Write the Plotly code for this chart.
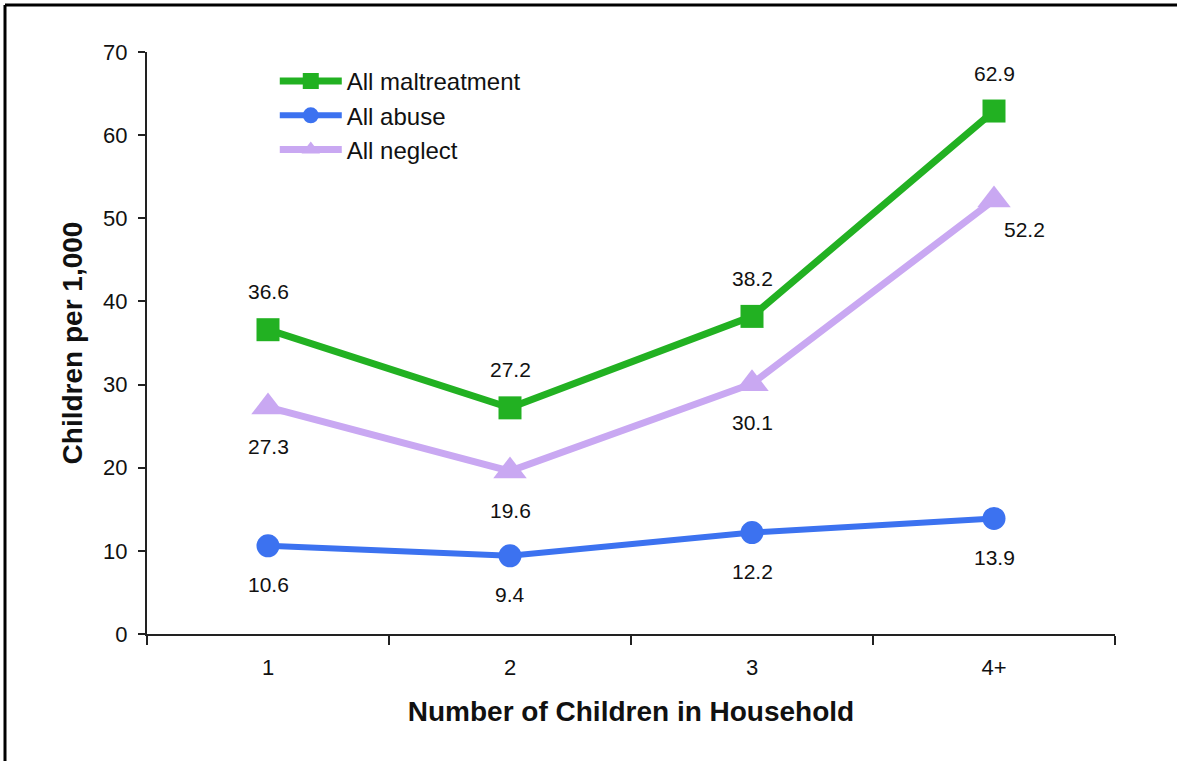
import plotly.graph_objects as go

categories = ["1", "2", "3", "4+"]
maltreatment = [36.6, 27.2, 38.2, 62.9]
abuse = [10.6, 9.4, 12.2, 13.9]
neglect = [27.3, 19.6, 30.1, 52.2]
y_ticks = [0, 10, 20, 30, 40, 50, 60, 70]

GREEN = "#22B122"
BLUE = "#3C72F0"
PURPLE = "#C9A8F2"
FONT = "Liberation Sans, Arial, sans-serif"

fig = go.Figure()
fig.add_trace(go.Scatter(x=categories, y=maltreatment, name="All maltreatment",
                         mode="lines+markers", legendgroup="a",
                         line=dict(color=GREEN, width=7),
                         marker=dict(symbol="square", size=23, color=GREEN)))
fig.add_trace(go.Scatter(x=categories, y=abuse, name="All abuse",
                         mode="lines+markers", legendgroup="b",
                         line=dict(color=BLUE, width=6),
                         marker=dict(symbol="circle", size=23, color=BLUE)))
fig.add_trace(go.Scatter(x=categories, y=neglect, name="All neglect",
                         mode="lines+markers", legendgroup="c",
                         line=dict(color=PURPLE, width=7),
                         marker=dict(symbol="triangle-up", size=29, color=PURPLE)))

annotations = []
for i, v in enumerate(maltreatment):
    annotations.append(dict(x=i, y=v, text=f"{v}", showarrow=False, yshift=38))
for i, v in enumerate(abuse):
    annotations.append(dict(x=i, y=v, text=f"{v}", showarrow=False, yshift=-39))
for i, v in enumerate(neglect):
    if i == len(neglect) - 1:
        annotations.append(dict(x=i, y=v, text=f"{v}", showarrow=False, xshift=30, yshift=-30))
    else:
        annotations.append(dict(x=i, y=v, text=f"{v}", showarrow=False, yshift=-39))
for a in annotations:
    a["font"] = dict(family=FONT, size=21, color="#111111")
    a["xref"] = "x"
    a["yref"] = "y"

# figure border (top and left visible)
bx = -142 / 968
by = (634 - 5) / 582
shapes = [
    dict(type="line", xref="paper", yref="paper", x0=bx, x1=bx, y0=-0.3, y1=by,
         line=dict(color="black", width=3)),
    dict(type="line", xref="paper", yref="paper", x0=bx, x1=1.2, y0=by, y1=by,
         line=dict(color="black", width=3)),
]

fig.update_layout(
    width=1177, height=761,
    margin=dict(l=147, r=62, t=52, b=127),
    paper_bgcolor="white", plot_bgcolor="white",
    font=dict(family=FONT, size=21, color="#111111"),
    showlegend=True,
    legend=dict(x=0.132, y=0.988, xanchor="left", yanchor="top",
                bgcolor="rgba(0,0,0,0)", font=dict(size=24),
                tracegroupgap=0, itemwidth=62),
    annotations=annotations,
    shapes=shapes,
    xaxis=dict(type="category", range=[-0.5, 3.5], showline=True, linecolor="#222222",
               linewidth=2, ticks="outside", tickson="boundaries", ticklen=9,
               tickcolor="#222222", tickwidth=2, showgrid=False, zeroline=False,
               ticklabelstandoff=13, tickfont=dict(size=22),
               title=dict(text="<b>Number of Children in Household</b>",
                          font=dict(size=28), standoff=22)),
    yaxis=dict(range=[0, 70], tickvals=y_ticks, showline=True, linecolor="#222222",
               linewidth=2, ticks="outside", ticklen=7, tickcolor="#222222",
               tickwidth=2, showgrid=False, zeroline=False, tickfont=dict(size=22),
               ticklabelstandoff=6,
               title=dict(text="<b>Children per 1,000</b>", font=dict(size=28),
                          standoff=12)),
)

fig.write_html("out.html", config={"displayModeBar": False},
               post_script="document.body.style.margin='0';document.body.style.overflow='hidden';")
